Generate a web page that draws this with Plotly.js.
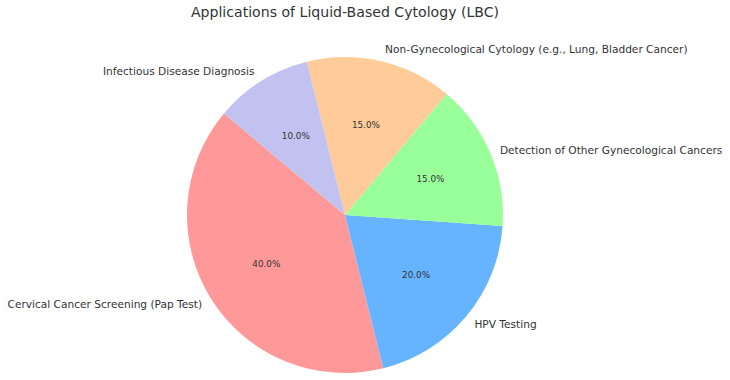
<!DOCTYPE html>
<html>
<head>
<meta charset="utf-8">
<script src="https://cdn.plot.ly/plotly-3.0.1.min.js"></script>
<style>html,body{margin:0;padding:0;background:#fff;}#chart{width:730px;height:380px;}</style>
</head>
<body>
<div id="chart"></div>
<script>
const labels = [
  "Cervical Cancer Screening (Pap Test)",
  "HPV Testing",
  "Detection of Other Gynecological Cancers",
  "Non-Gynecological Cytology (e.g., Lung, Bladder Cancer)",
  "Infectious Disease Diagnosis"
];
const values = [40, 20, 15, 15, 10];
const colors = ["#ff9999", "#66b3ff", "#99ff99", "#ffcc99", "#c2c2f0"];

const W = 730, H = 380, cx = 345, cy = 215;
function dom(rad) {
  return {
    x: [(cx - rad) / W, (cx + rad) / W],
    y: [Math.max(0, (H - cy - rad) / H), Math.min(1, (H - cy + rad) / H)]
  };
}
const clear = colors.map(() => "rgba(0,0,0,0)");

const common = {
  type: "pie",
  labels: labels,
  values: values,
  sort: false,
  direction: "counterclockwise",
  rotation: 166,
  hoverinfo: "none",
  showlegend: false
};

// coloured wedges
const wedges = Object.assign({}, common, {
  domain: dom(158),
  marker: { colors: colors, line: { width: 0 } },
  textinfo: "none"
});

// percentage texts (transparent ring so texts sit at ~0.6 of the radius)
const pct = Object.assign({}, common, {
  domain: dom(116),
  hole: 0.6,
  marker: { colors: clear, line: { width: 0 } },
  texttemplate: "%{percent:.1%}",
  textposition: "inside",
  insidetextorientation: "horizontal",
  textfont: { family: "DejaVu Sans", size: 8.8, color: "#333333" }
});

// category labels outside
const lab = Object.assign({}, common, {
  domain: dom(165),
  marker: { colors: clear, line: { width: 0 } },
  textinfo: "label",
  textposition: "outside",
  textfont: { family: "DejaVu Sans", size: 10.6, color: "#333333" },
  automargin: false
});

const layout = {
  width: W,
  height: H,
  margin: { l: 0, r: 0, t: 0, b: 0 },
  paper_bgcolor: "#ffffff",
  title: {
    text: "Applications of Liquid-Based Cytology (LBC)",
    font: { family: "DejaVu Sans", size: 14.1, color: "#333333" },
    x: 345 / W,
    xanchor: "center",
    y: 1 - 12 / H,
    yanchor: "middle"
  },
  showlegend: false
};

Plotly.newPlot("chart", [wedges, pct, lab], layout, { displayModeBar: false, staticPlot: true });
</script>
</body>
</html>
